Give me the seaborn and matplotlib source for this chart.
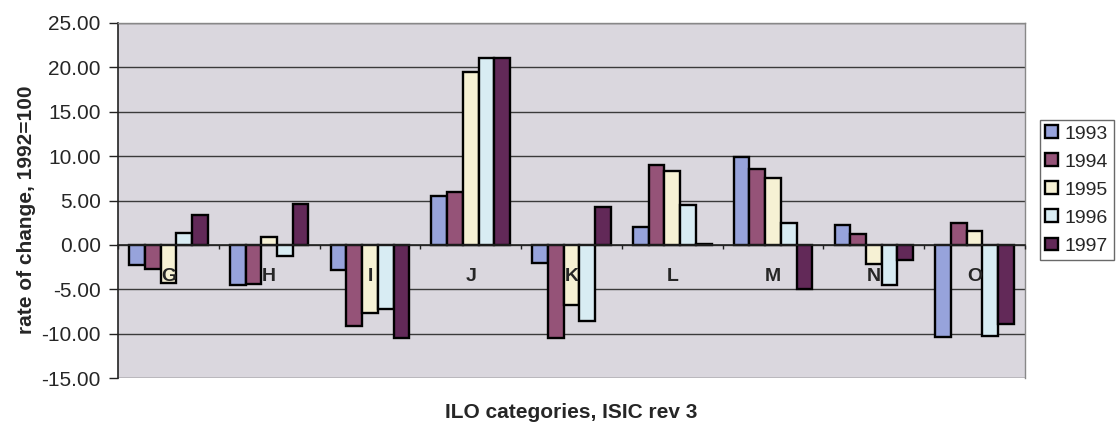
import matplotlib
matplotlib.use("Agg")
import matplotlib.pyplot as plt
import matplotlib.ticker as mticker
import seaborn as sns
import pandas as pd

categories = ["G", "H", "I", "J", "K", "L", "M", "N", "O"]
years = ["1993", "1994", "1995", "1996", "1997"]
y1993 = [-2.3, -4.5, -2.8, 5.5, -2.0, 2.0, 9.9, 2.25, -10.4]
y1994 = [-2.7, -4.4, -9.1, 6.0, -10.5, 9.05, 8.5, 1.2, 2.45]
y1995 = [-4.3, 0.9, -7.7, 19.5, -6.8, 8.3, 7.5, -2.1, 1.55]
y1996 = [1.3, -1.3, -7.2, 21.1, -8.6, 4.45, 2.5, -4.5, -10.3]
y1997 = [3.4, 4.65, -10.5, 21.1, 4.3, 0.1, -4.95, -1.75, -8.9]
yticks = [-15, -10, -5, 0, 5, 10, 15, 20, 25]
colors = ["#8C9BE6", "#A0487A", "#FBF5CF", "#D3EEF8", "#6B1F5E"]

series = [y1993, y1994, y1995, y1996, y1997]
rows = []
for yr, vals in zip(years, series):
    for c, v in zip(categories, vals):
        rows.append({"category": c, "year": yr, "value": v})
df = pd.DataFrame(rows)

sns.set_theme(style="white")
plt.rcParams["font.family"] = ["Liberation Sans", "DejaVu Sans"]
plt.rcParams["axes.unicode_minus"] = False

fig = plt.figure(figsize=(11.16, 4.24), dpi=100)
ax = fig.add_axes([118 / 1116, 1 - 378 / 424, (1025 - 118) / 1116, (378 - 23) / 424])
ax.set_facecolor("#DAD7DE")

sns.barplot(data=df, x="category", y="value", hue="year", order=categories,
            hue_order=years, palette=colors, width=0.78, edgecolor="black",
            linewidth=1.7, errorbar=None, ax=ax)

ax.set_ylim(-15, 25)
ax.set_xlim(-0.5, len(categories) - 0.5)
ax.set_yticks(yticks)
ax.yaxis.set_major_formatter(mticker.FormatStrFormatter("%.2f"))
ax.grid(axis="y", color="#3a3a3a", linewidth=1.0)
ax.set_axisbelow(True)
ax.xaxis.set_zorder(3)

# category axis at zero
ax.spines["bottom"].set_position(("data", 0))
ax.spines["bottom"].set_color("#222222")
ax.spines["bottom"].set_linewidth(1.2)
ax.spines["left"].set_color("#222222")
ax.spines["left"].set_linewidth(1.2)
for s in ["top", "right"]:
    ax.spines[s].set_color("#888888")
    ax.spines[s].set_linewidth(1.0)

ax.set_xticks([i - 0.5 for i in range(len(categories) + 1)])
ax.set_xticklabels([])
ax.set_xticks(range(len(categories)), minor=True)
ax.set_xticklabels(categories, minor=True, fontsize=14, fontweight="bold")
ax.tick_params(axis="x", which="major", direction="out", length=3, width=1, color="#222222", bottom=True)
ax.tick_params(axis="x", which="minor", length=0, pad=16.5)
ax.tick_params(axis="y", direction="out", length=6.5, width=1, color="#222222", left=True, pad=6, labelsize=15)
ax.set_xlabel("")
ax.set_ylabel("")

fig.text(27 / 1116, 1 - 210 / 424, "rate of change, 1992=100", rotation=90,
         ha="center", va="center", fontsize=15, fontweight="bold")
fig.text(571 / 1116, 1 - 412 / 424, "ILO categories, ISIC rev 3",
         ha="center", va="center", fontsize=15, fontweight="bold")

handles, labels = ax.get_legend_handles_labels()
if ax.get_legend() is not None:
    ax.get_legend().remove()
leg = fig.legend(handles, labels, loc="upper left",
                 bbox_to_anchor=(1040 / 1116, 1 - 120 / 424),
                 frameon=True, fancybox=False, fontsize=14,
                 handlelength=0.65, handleheight=0.65, handletextpad=0.35,
                 labelspacing=0.55, borderpad=0.28, borderaxespad=0)
leg.get_frame().set_edgecolor("#444444")
leg.get_frame().set_linewidth(1.0)
leg.get_frame().set_facecolor("white")
for h in leg.legend_handles:
    h.set_edgecolor("black")
    h.set_linewidth(1.7)

fig.savefig("out.png", dpi=100)
